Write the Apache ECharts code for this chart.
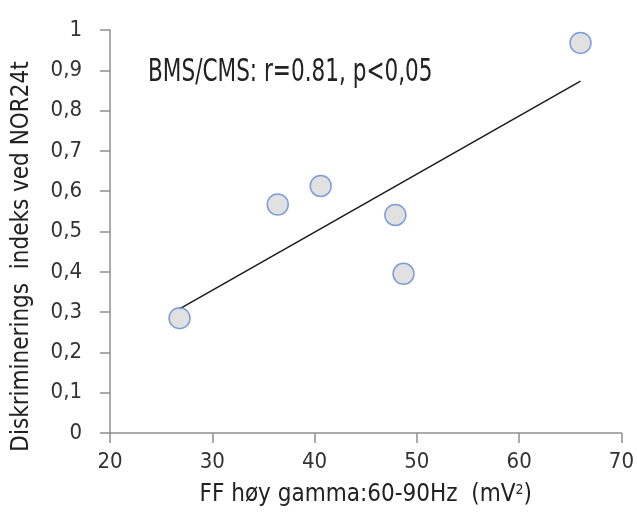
<!DOCTYPE html>
<html>
<head>
<meta charset="utf-8">
<script src="https://cdn.jsdelivr.net/npm/echarts@6/dist/echarts.min.js"></script>
<style>
  html, body { margin: 0; padding: 0; background: #fff; }
  #chart { width: 637px; height: 520px; }
</style>
</head>
<body>
<div id="chart"></div>
<script>
// punkter: FF høy gamma (mV2) mot diskrimineringsindeks
const gammaX = [26.8, 36.4, 40.6, 47.9, 48.7, 66.0]
const indexY = [0.285, 0.567, 0.613, 0.541, 0.395, 0.968]
// trendlinje, lest av bildet
const trendX = [26.8, 66.0]
const trendY = [0.308, 0.873]
const note = 'BMS/CMS: r=0.81, p<0,05'

const font = '"Liberation Sans Narrow", "DejaVu Sans Condensed", sans-serif'
const axisGrey = '#8f8f8f'

const myChart = echarts.init(document.getElementById('chart'))
const option = {
  animation: false,
  backgroundColor: '#fff',
  textStyle: { fontFamily: font },
  grid: {
    left: 110,
    right: 14,
    top: 30,
    bottom: 87,
  },
  xAxis: {
    type: 'value',
    min: 20,
    max: 70,
    interval: 10,
    name: 'FF høy gamma:60-90Hz  (mV{sup|2})',
    nameLocation: 'middle',
    nameGap: 50,
    nameTextStyle: {
      fontFamily: font,
      fontSize: 24,
      color: '#222',
      rich: {
        sup: { fontFamily: font, fontSize: 14, color: '#222', verticalAlign: 'top', padding: [0, 0, 10, 0] },
      },
    },
    axisLine: { lineStyle: { color: axisGrey, width: 1.5 } },
    axisTick: { show: true, length: 10, lineStyle: { color: axisGrey, width: 1.5 } },
    splitLine: { show: false },
    axisLabel: { fontFamily: font, fontSize: 22, color: '#333', margin: 18 },
  },
  yAxis: {
    type: 'value',
    min: 0,
    max: 1,
    interval: 0.1,
    name: 'Diskriminerings  indeks ved NOR24t',
    nameLocation: 'middle',
    nameGap: 76,
    nameTextStyle: { fontFamily: font, fontSize: 24, color: '#222', padding: [0, 50, 0, 0] },
    axisLine: { show: true, lineStyle: { color: axisGrey, width: 1.5 } },
    axisTick: { show: true, length: 10, lineStyle: { color: axisGrey, width: 1.5 } },
    splitLine: { show: false },
    axisLabel: {
      fontFamily: font,
      fontSize: 22,
      color: '#333',
      margin: 28,
      formatter: (v) => String(Math.round(v * 10) / 10).replace('.', ','),
    },
  },
  graphic: [
    {
      type: 'text',
      x: 148,
      y: 57,
      scaleY: 1.3,
      style: { text: note, fontFamily: font, fontSize: 24, fill: '#222', verticalAlign: 'top' },
    },
  ],
  series: [
    {
      name: 'trend',
      type: 'line',
      data: trendX.map((x, i) => [x, trendY[i]]),
      showSymbol: false,
      lineStyle: { color: '#1a1a1a', width: 1.5 },
      z: 1,
    },
    {
      name: 'punkter',
      type: 'scatter',
      data: gammaX.map((x, i) => [x, indexY[i]]),
      symbolSize: 21,
      itemStyle: { color: '#d9d9d9', borderColor: '#5f8ad6', borderWidth: 1.5 },
      z: 2,
    },
  ],
}
myChart.setOption(option)
</script>
</body>
</html>
